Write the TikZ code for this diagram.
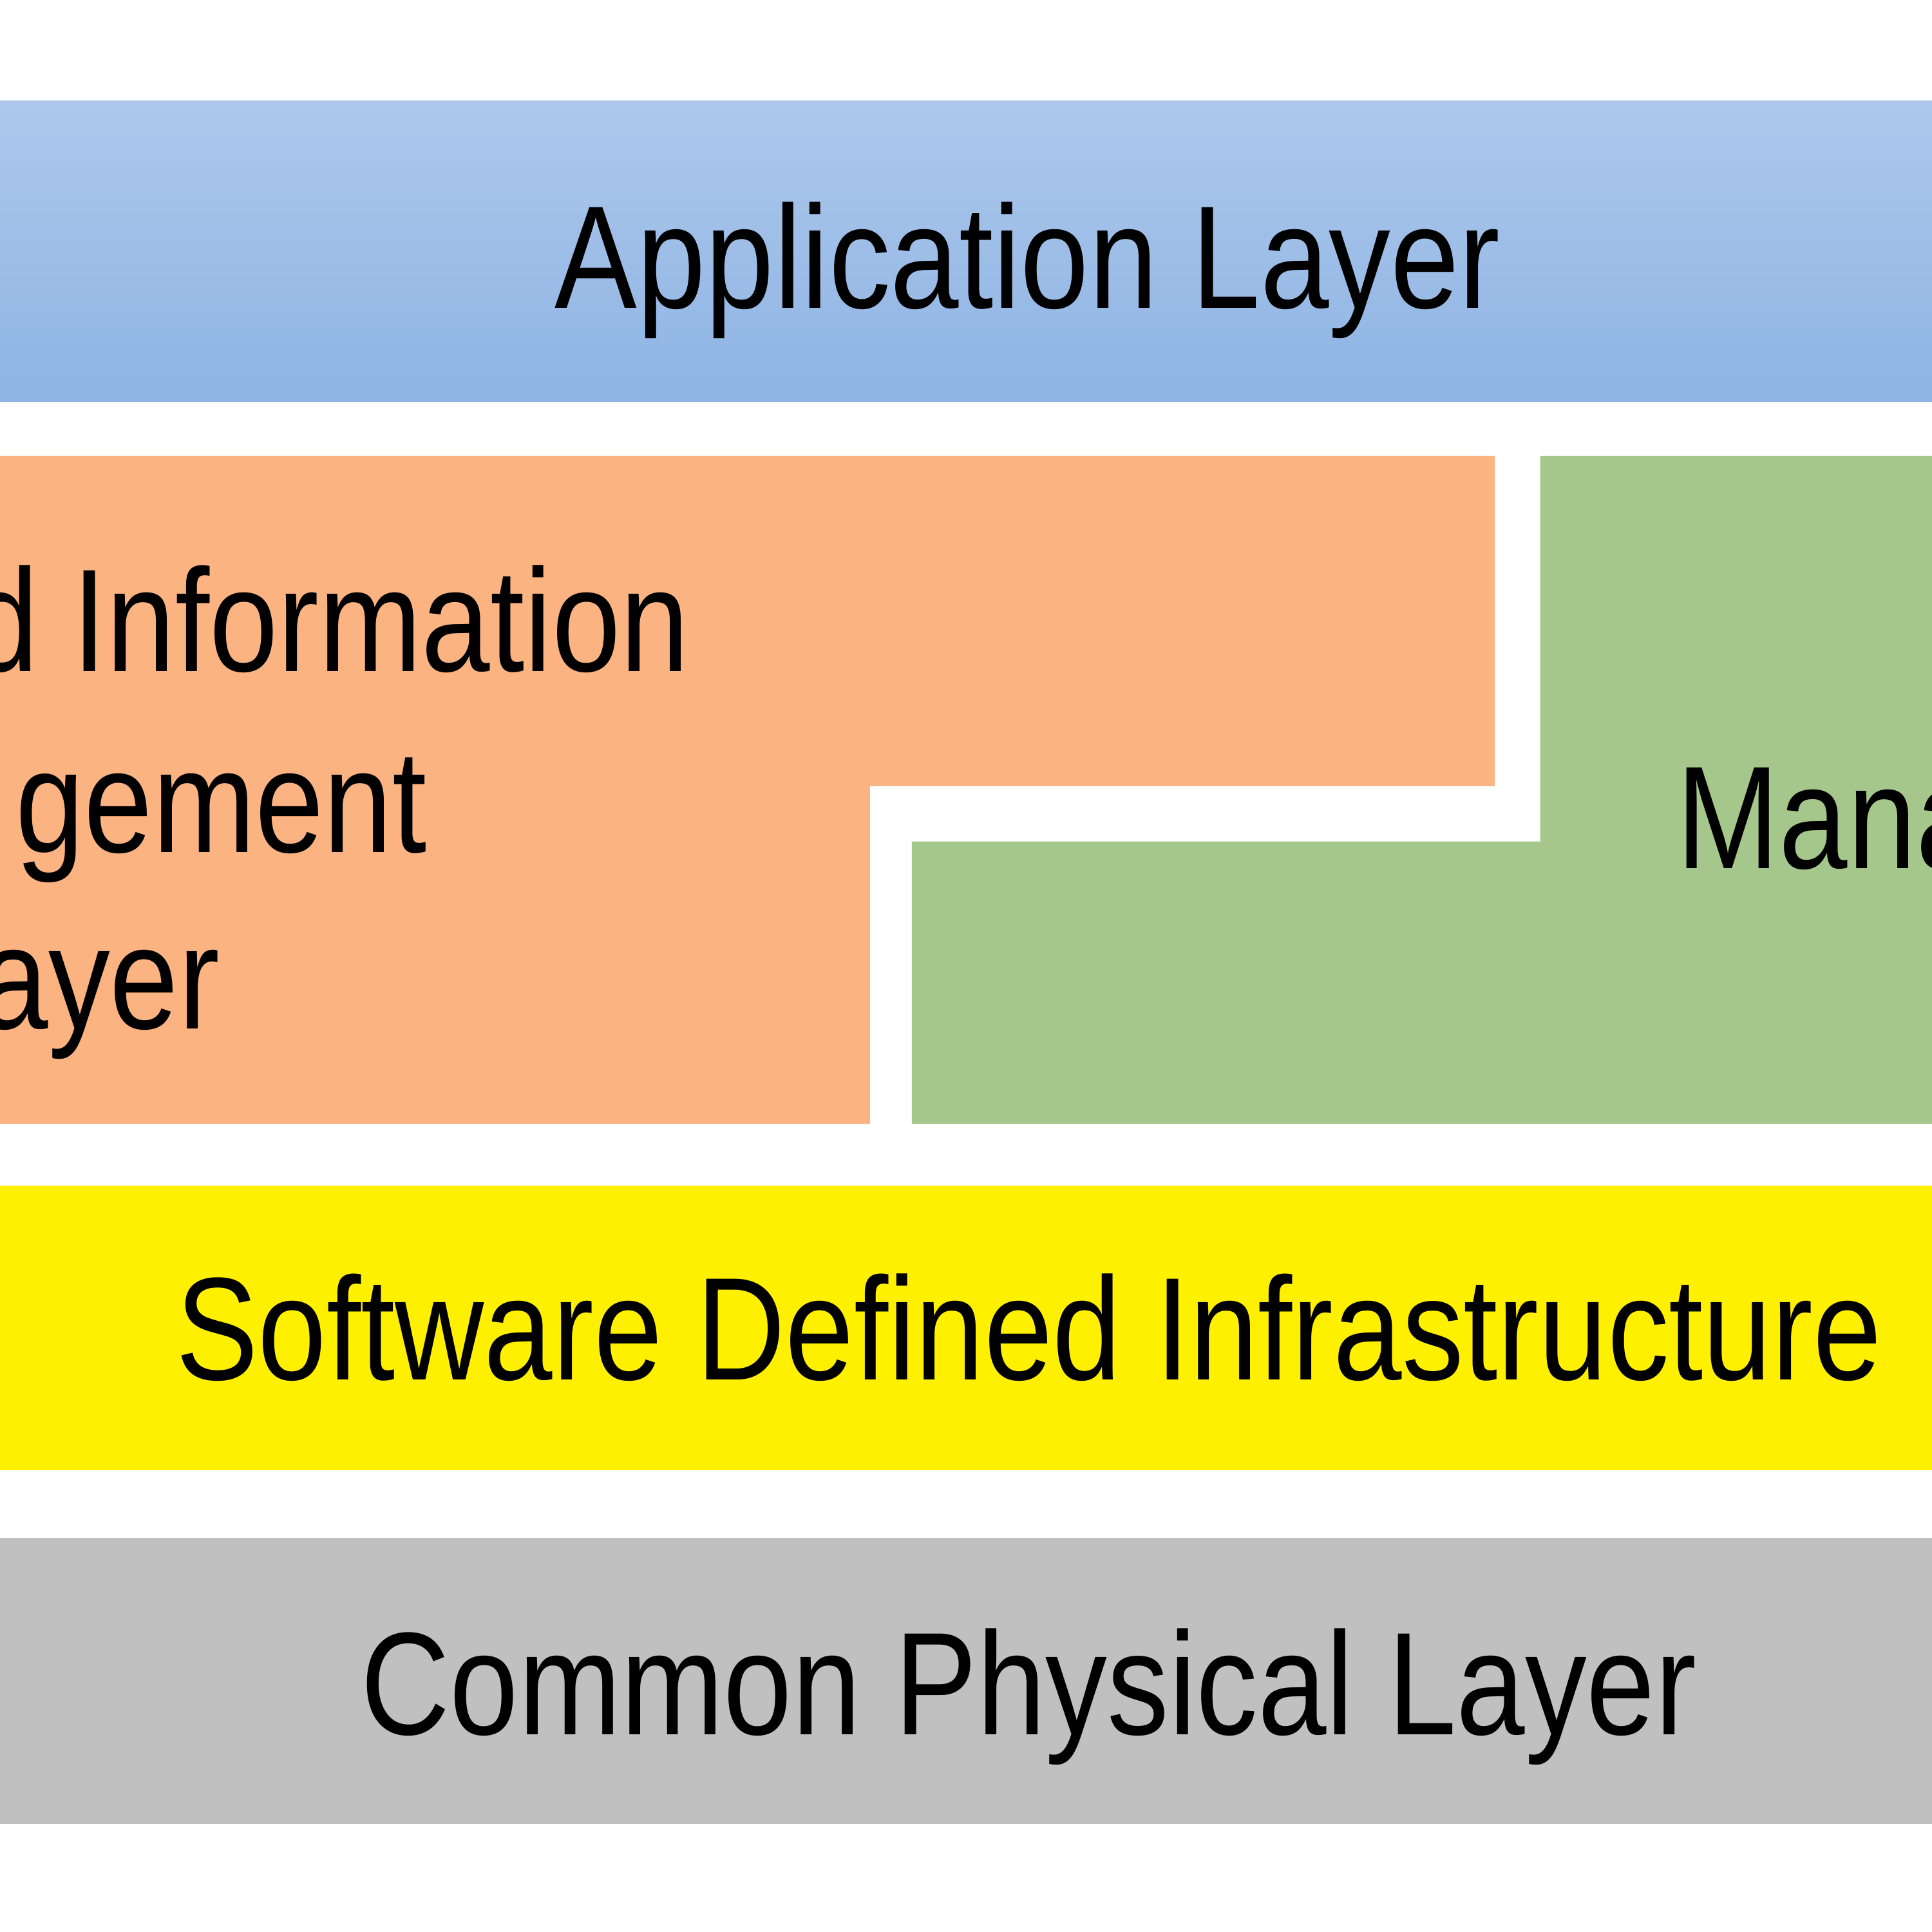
\documentclass[tikz,border=0pt]{standalone}
\usepackage{fontspec}
\setmainfont{Liberation Sans}[FakeStretch=0.842]
\usepackage{tikz}

\definecolor{appTop}{HTML}{ADC8EC}
\definecolor{appBot}{HTML}{8EB4E3}
\definecolor{dataFill}{HTML}{FAB381}
\definecolor{mgmtFill}{HTML}{A6C78B}
\definecolor{sdiFill}{HTML}{FFF000}
\definecolor{physFill}{HTML}{C0C0C0}

\begin{document}
\begin{tikzpicture}[lbl/.style={inner sep=0pt,font=\fontsize{33.8}{41}\selectfont}]
\useasboundingbox[fill=white] (0,0) rectangle (15.68,15.68);

\shade[top color=appTop,bottom color=appBot] (0,12.42) rectangle (15.68,14.86);
\fill[dataFill] (0,11.98) -- (12.13,11.98) -- (12.13,9.30) -- (7.06,9.30) -- (7.06,6.56) -- (0,6.56) -- cycle;
\fill[mgmtFill] (12.50,11.98) -- (15.68,11.98) -- (15.68,6.56) -- (7.40,6.56) -- (7.40,8.85) -- (12.50,8.85) -- cycle;
\fill[sdiFill] (0,3.75) rectangle (15.68,6.06);
\fill[physFill] (0,0.88) rectangle (15.68,3.20);

\node[lbl,anchor=base] (app) at (8.34,13.18) {Application Layer};

\node[lbl,anchor=base east] (data1) at (5.60,10.23) {d Information};
\node[lbl,anchor=base east] (data2) at (3.47,8.76) {gement};
\node[lbl,anchor=base east] (data3) at (1.79,7.33) {ayer};

\node[lbl,anchor=base west] (mgmt) at (13.60,8.63) {Mana};

\node[lbl,anchor=base] (sdi) at (8.35,4.48) {Software Defined Infrastructure};
\node[lbl,anchor=base] (phys) at (8.35,1.60) {Common Physical Layer};
\end{tikzpicture}
\end{document}
